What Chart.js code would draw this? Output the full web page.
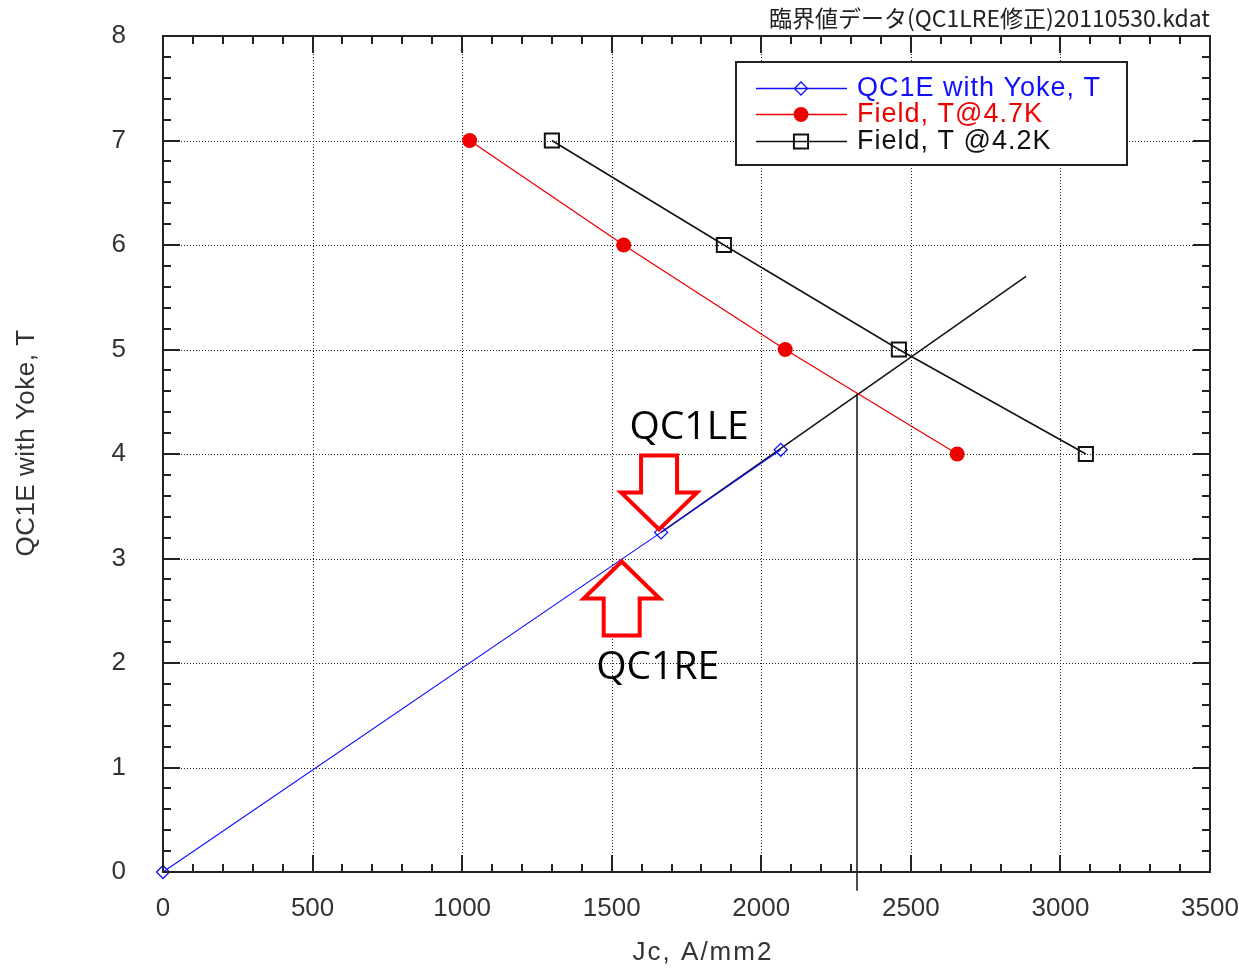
<!DOCTYPE html>
<html>
<head>
<meta charset="utf-8">
<script src="https://cdn.jsdelivr.net/npm/chart.js@4.4.1/dist/chart.umd.min.js"></script>
<style>
  html, body { margin: 0; padding: 0; background: #ffffff; }
  canvas { display: block; }
</style>
</head>
<body>
<canvas id="chart" width="1239" height="971"></canvas>
<script>
// Load line of the magnet (field vs. current density)
const qc1eJc = [0, 1665, 2065];
const qc1eField = [0, 3.25, 4.04];

// Critical current curves
const jc47K = [1025, 1540, 2080, 2655];
const field47K = [7, 6, 5, 4];
const jc42K = [1300, 1875, 2460, 3085];
const field42K = [7, 6, 5, 4];

// Extension of the load line and the drop line at its crossing with the 4.7K curve
const extJc = [1665, 2885];
const extField = [3.25, 5.7];
const dropJc = [2320, 2320];
const dropField = [4.58, -0.18];

// Axis ticks
const xTicks = [0, 500, 1000, 1500, 2000, 2500, 3000, 3500];
const yTicks = [0, 1, 2, 3, 4, 5, 6, 7, 8];
const xMinorStep = 100;
const yMinorStep = 0.2;

// Text
const seriesLabels = ['QC1E with Yoke, T', 'Field, T@4.7K', 'Field, T @4.2K'];
const fileTitle = '臨界値データ(QC1LRE修正)20110530.kdat';
const xTitle = 'Jc, A/mm2';
const yTitle = 'QC1E with Yoke, T';

// Operating points marked with arrows
const magnetLabels = ['QC1LE', 'QC1RE'];
const magnetJc = [1665, 1540];
const magnetField = [3.25, 3.0];
const magnetArrowDir = ['down', 'up'];

const toPts = (xs, ys) => xs.map((x, i) => ({ x: x, y: ys[i] }));

const BLUE = '#1010ff';
const RED = '#ee0000';
const BLACK = '#111111';
const LABEL_FONT = '"Liberation Sans", Arial, sans-serif';

const framePlugin = {
  id: 'frame',
  beforeDatasetsDraw(chart) {
    const { ctx, chartArea: a, scales: { x, y } } = chart;
    ctx.save();
    ctx.strokeStyle = '#222';
    ctx.lineWidth = 1;
    ctx.setLineDash([1, 2]);
    xTicks.forEach(v => {
      const px = Math.round(x.getPixelForValue(v)) + 0.5;
      ctx.beginPath(); ctx.moveTo(px, a.top); ctx.lineTo(px, a.bottom); ctx.stroke();
    });
    yTicks.forEach(v => {
      const py = Math.round(y.getPixelForValue(v)) + 0.5;
      ctx.beginPath(); ctx.moveTo(a.left, py); ctx.lineTo(a.right, py); ctx.stroke();
    });
    ctx.restore();
  },
  afterDatasetsDraw(chart) {
    const { ctx, chartArea: a, scales: { x, y } } = chart;
    ctx.save();
    ctx.setLineDash([]);
    ctx.strokeStyle = '#222';
    ctx.lineWidth = 2;
    const major = 17, minor = 8;
    // tick marks, pointing into the plot on all four sides
    for (let v = x.min; v <= x.max + 1e-6; v += xMinorStep) {
      const px = Math.round(x.getPixelForValue(v));
      const len = xTicks.includes(Math.round(v)) ? major : minor;
      ctx.beginPath();
      ctx.moveTo(px, a.bottom); ctx.lineTo(px, a.bottom - len);
      ctx.moveTo(px, a.top); ctx.lineTo(px, a.top + len);
      ctx.stroke();
    }
    for (let i = 0; i <= Math.round((y.max - y.min) / yMinorStep); i++) {
      const v = y.min + i * yMinorStep;
      const py = Math.round(y.getPixelForValue(v));
      const len = (i % 5 === 0) ? major : minor;
      ctx.beginPath();
      ctx.moveTo(a.left, py); ctx.lineTo(a.left + len, py);
      ctx.moveTo(a.right, py); ctx.lineTo(a.right - len, py);
      ctx.stroke();
    }
    ctx.strokeRect(a.left, a.top, a.right - a.left, a.bottom - a.top);

    // axis titles
    ctx.fillStyle = '#333';
    ctx.font = '26px ' + LABEL_FONT;
    ctx.textAlign = 'center';
    ctx.textBaseline = 'middle';
    ctx.letterSpacing = '2px';
    ctx.fillText(xTitle, 703, 953);
    ctx.save();
    ctx.translate(27, 443);
    ctx.rotate(-Math.PI / 2);
    ctx.letterSpacing = '0.5px';
    ctx.fillText(yTitle, 0, 0);
    ctx.restore();

    // file title
    ctx.fillStyle = '#222';
    ctx.font = '23px "Noto Sans CJK JP", sans-serif';
    ctx.letterSpacing = '0px';
    ctx.textAlign = 'right';
    ctx.textBaseline = 'middle';
    ctx.fillText(fileTitle, a.right, 18);

    // legend box
    const lx = 736, ly = 62, lw = 391, lh = 103;
    ctx.fillStyle = '#fff';
    ctx.fillRect(lx, ly, lw, lh);
    ctx.lineWidth = 2;
    ctx.strokeStyle = '#222';
    ctx.strokeRect(lx, ly, lw, lh);
    const rows = [88, 114, 141];
    chart.data.datasets.slice(0, 3).forEach((ds, i) => {
      const ry = rows[i];
      ctx.strokeStyle = ds.borderColor;
      ctx.lineWidth = 1.5;
      ctx.beginPath(); ctx.moveTo(756, ry + 0.5); ctx.lineTo(847, ry + 0.5); ctx.stroke();
      ctx.fillStyle = ds.pointBackgroundColor;
      ctx.strokeStyle = ds.borderColor;
      ctx.lineWidth = ds.pointBorderWidth;
      Chart.helpers.drawPoint(ctx, {
        pointStyle: ds.pointStyle, radius: ds.pointRadius, borderWidth: ds.pointBorderWidth, rotation: 0
      }, 801, ry + 0.5);
      ctx.fillStyle = ds.borderColor;
      ctx.font = '27px ' + LABEL_FONT;
      ctx.letterSpacing = '1px';
      ctx.textAlign = 'left';
      ctx.textBaseline = 'middle';
      ctx.fillText(ds.label, 857, ry + 1);
    });
    ctx.letterSpacing = '0px';

    // arrows and magnet labels
    magnetLabels.forEach((name, i) => {
      const tx = x.getPixelForValue(magnetJc[i]) - 2;
      const down = magnetArrowDir[i] === 'down';
      const s = down ? -1 : 1;
      const ty = y.getPixelForValue(magnetField[i]) + 3 * s;
      const headLen = 37, headHalf = 38, shaftHalf = 18, total = 74;
      ctx.beginPath();
      ctx.moveTo(tx, ty);
      ctx.lineTo(tx + headHalf, ty + s * headLen);
      ctx.lineTo(tx + shaftHalf, ty + s * headLen);
      ctx.lineTo(tx + shaftHalf, ty + s * total);
      ctx.lineTo(tx - shaftHalf, ty + s * total);
      ctx.lineTo(tx - shaftHalf, ty + s * headLen);
      ctx.lineTo(tx - headHalf, ty + s * headLen);
      ctx.closePath();
      ctx.fillStyle = '#fff';
      ctx.fill();
      ctx.lineWidth = 4;
      ctx.lineJoin = 'miter';
      ctx.strokeStyle = '#ff0000';
      ctx.stroke();
      ctx.fillStyle = '#000';
      ctx.font = '39px "Open Sans", sans-serif';
      ctx.textAlign = 'center';
      ctx.textBaseline = 'alphabetic';
      if (down) ctx.fillText(name, tx + 30, ty - 90);
      else ctx.fillText(name, tx + 36, ty + 117);
    });
    ctx.restore();
  }
};

new Chart(document.getElementById('chart'), {
  type: 'scatter',
  data: {
    datasets: [
      {
        label: seriesLabels[0],
        data: toPts(qc1eJc, qc1eField),
        showLine: true,
        borderColor: BLUE,
        borderWidth: 1.2,
        pointStyle: 'rectRot',
        pointRadius: 6.5,
        pointBorderWidth: 1.3,
        pointBackgroundColor: 'rgba(255,255,255,0)',
        pointBorderColor: BLUE,
        clip: false
      },
      {
        label: seriesLabels[1],
        data: toPts(jc47K, field47K),
        showLine: true,
        borderColor: RED,
        borderWidth: 1.3,
        pointStyle: 'circle',
        pointRadius: 7.5,
        pointBorderWidth: 0,
        pointBackgroundColor: RED,
        pointBorderColor: RED
      },
      {
        label: seriesLabels[2],
        data: toPts(jc42K, field42K),
        showLine: true,
        borderColor: BLACK,
        borderWidth: 1.5,
        pointStyle: 'rect',
        pointRadius: 10,
        pointBorderWidth: 2,
        pointBackgroundColor: 'rgba(255,255,255,0)',
        pointBorderColor: BLACK
      },
      {
        label: 'extension',
        data: toPts(extJc, extField),
        showLine: true,
        borderColor: BLACK,
        borderWidth: 1.5,
        pointRadius: 0
      },
      {
        label: 'drop',
        data: toPts(dropJc, dropField),
        showLine: true,
        borderColor: BLACK,
        borderWidth: 1.5,
        pointRadius: 0,
        clip: false
      }
    ]
  },
  options: {
    responsive: false,
    animation: false,
    devicePixelRatio: 1,
    layout: { padding: { left: 0, right: 29, top: 36, bottom: 0 } },
    plugins: {
      legend: { display: false },
      tooltip: { enabled: false },
      title: { display: false }
    },
    scales: {
      x: {
        type: 'linear',
        min: 0,
        max: 3500,
        grid: { display: false },
        border: { display: false },
        afterBuildTicks: s => { s.ticks = xTicks.map(v => ({ value: v })); },
        afterFit: s => { s.height = 99; s.paddingLeft = 0; s.paddingRight = 0; },
        ticks: {
          padding: 13,
          color: '#333',
          font: { family: LABEL_FONT, size: 26 },
          callback: v => String(v),
          maxRotation: 0
        },
        title: { display: false, text: xTitle }
      },
      y: {
        type: 'linear',
        min: 0,
        max: 8,
        grid: { display: false },
        border: { display: false },
        afterBuildTicks: s => { s.ticks = yTicks.map(v => ({ value: v })); },
        afterFit: s => { s.width = 163; s.paddingTop = 0; s.paddingBottom = 0; },
        ticks: {
          padding: 29,
          color: '#333',
          font: { family: LABEL_FONT, size: 26 },
          callback: v => String(v)
        },
        title: { display: false, text: yTitle }
      }
    }
  },
  plugins: [framePlugin]
});
</script>
</body>
</html>
